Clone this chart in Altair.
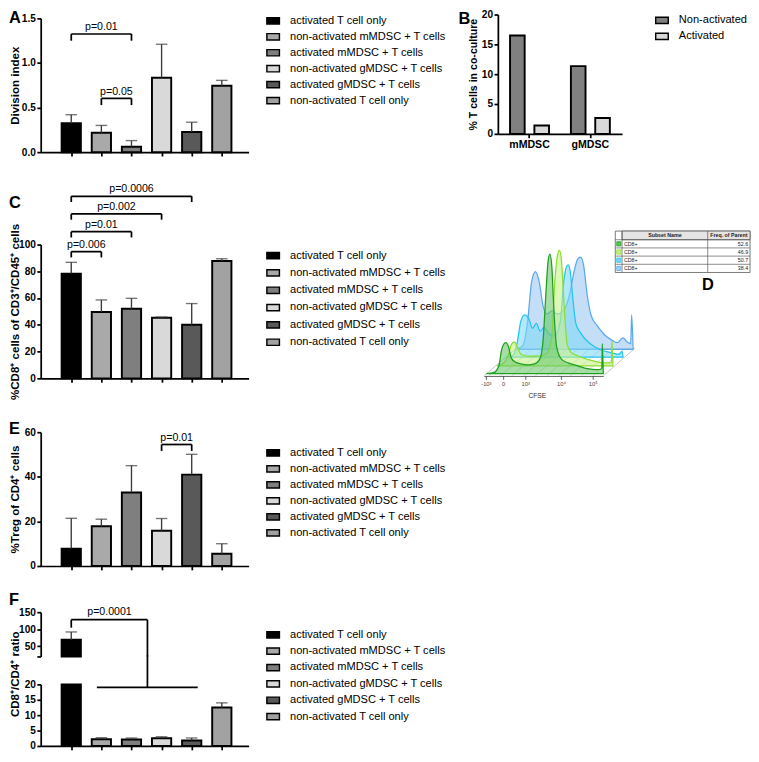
import altair as alt
import pandas as pd

FONT = "Liberation Sans"
RECT = "M-1,-0.5H1V0.5H-1Z"

# ---------------- shared categories ----------------
groups = ["activated T cell only", "non-activated mMDSC + T cells", "activated mMDSC + T cells",
          "non-activated gMDSC + T cells", "activated gMDSC + T cells", "non-activated T cell only"]
group_colors = ["#000000", "#a9a9a9", "#7f7f7f", "#d9d9d9", "#595959", "#a2a2a2"]
bar_pos = [1, 2, 3, 4, 5, 6]

# ---------------- panel A ----------------
a_mean = [0.325, 0.217, 0.061, 0.834, 0.227, 0.744]
a_upper = [0.42, 0.30, 0.13, 1.21, 0.336, 0.805]
a_br_x1 = [1, 2]
a_br_x2 = [3, 3]
a_br_y = [1.325, 0.603]
a_br_label = ["p=0.01", "p=0.05"]

# ---------------- panel B ----------------
b_cells = ["mMDSC", "mMDSC", "gMDSC", "gMDSC"]
b_states = ["Non-activated", "Activated", "Non-activated", "Activated"]
b_values = [16.5, 1.4, 11.35, 2.65]

# ---------------- panel C ----------------
c_mean = [78.3, 49.6, 52.0, 45.3, 40.0, 87.7]
c_upper = [86.7, 58.6, 59.8, 45.8, 55.9, 89.4]
c_br_x1 = [1, 1, 1, 1]
c_br_x2 = [2, 3, 4, 5]
c_br_y = [94.7, 109.6, 122.9, 136.1]
c_br_label = ["p=0.006", "p=0.01", "p=0.002", "p=0.0006"]

# ---------------- panel E ----------------
e_mean = [7.8, 17.8, 33.0, 15.8, 41.0, 5.5]
e_upper = [21.4, 21.0, 45.0, 21.3, 50.1, 10.0]
e_br_x1 = [4]
e_br_x2 = [5]
e_br_y = [54.5]
e_br_label = ["p=0.01"]

# ---------------- panel F ----------------
f_mean = [69.0, 2.2, 2.1, 2.5, 1.8, 12.5]
f_upper = [92.0, 2.7, 2.6, 3.0, 2.6, 14.0]
f_br_top_y = 128.0
f_br_tick_low = 104.7
f_br_x_start = 1.0
f_br_x_drop = 3.53
f_br_label_x = 2.27
f_br_low_y = 19.06
f_br_low_x1 = 1.85
f_br_low_x2 = 5.2
f_break_gap_top = 29.4

# ---------------- panel D (flow histogram, page-pixel space) ----------------
dg_x = [482, 490, 495, 498, 502, 505, 508, 512, 518, 525, 532, 538, 541, 544, 546, 548, 550, 552, 555, 560, 567, 577, 587, 597, 602, 602.5, 603.5]
dg_h = [0, 1, 8, 25, 32, 28, 16, 12, 10, 9, 10, 16, 35, 85, 115, 124, 112, 70, 28, 15, 11, 8, 5, 4, 5, 31, 0]
lg_x = [493, 500, 505, 508, 511, 514, 518, 525, 535, 545, 550, 553, 556, 558, 560, 563, 566, 570, 578, 590, 605, 612, 612.5, 613.5]
lg_h = [0, 3, 12, 22, 25, 20, 12, 10, 10, 13, 30, 85, 115, 120, 110, 60, 22, 14, 10, 6, 3, 3, 26, 0]
cy_x = [503, 510, 514, 518, 522, 526, 530, 534, 538, 542, 547, 553, 559, 562, 565, 567, 569, 572, 575, 580, 590, 600, 610, 620, 623, 624]
cy_h = [0, 2, 15, 38, 44, 40, 30, 35, 27, 31, 24, 22, 38, 75, 93, 96, 90, 60, 35, 25, 14, 8, 5, 3, 6, 0]
bl_x = [513, 520, 525, 529, 533, 537, 541, 545, 550, 556, 562, 568, 573, 577, 580, 583, 587, 591, 597, 605, 612, 618, 624, 628, 632, 633, 634.5]
bl_h = [0, 4, 30, 70, 81, 70, 45, 37, 40, 37, 40, 55, 80, 94, 96, 88, 55, 35, 25, 15, 10, 7, 12, 8, 6, 36, 0]
hist_series = [
    ("blue", bl_x, bl_h, 353, "#9ec8f4", "#5aa8ee"),
    ("cyan", cy_x, cy_h, 361, "#7fd8f5", "#22c4f0"),
    ("lime", lg_x, lg_h, 370, "#c6f08c", "#8be02a"),
    ("green", dg_x, dg_h, 378, "#6cc86c", "#1ea01e"),
]
floor_front_x = [485, 497, 509, 521, 533, 545, 557, 569, 581, 593]
cfse_tick_x = [482, 500, 523, 560, 593]
cfse_tick_label = ["-10³", "0", "10³", "10⁴", "10⁵"]
table_names = ["CD8+", "CD8+", "CD8+", "CD8+"]
table_freq = ["52.6", "46.9", "50.7", "38.4"]
table_fill = ["#5cc05c", "#c6f08c", "#7fd8f5", "#a8cdf4"]
table_edge = ["#1ea01e", "#8be02a", "#22c4f0", "#5aa8ee"]
table_row_y = [239, 247.5, 256, 264.5, 273]

D_TOP = 244
D_BOTTOM = 405
LEG_X = 234


def legend(x, y, row_pad):
    return alt.Legend(title=None, orient="none", legendX=x, legendY=y, symbolType=RECT,
                      symbolSize=170, symbolStrokeColor="black", symbolStrokeWidth=1.5,
                      labelFontSize=11.5, labelFont=FONT, labelColor="black", labelLimit=400,
                      rowPadding=row_pad, labelOffset=10, padding=0, symbolOpacity=1)


def letter_layer(letter, x, y):
    return alt.Chart(pd.DataFrame({"t": [letter]})).mark_text(
        align="left", baseline="top", fontSize=17, fontWeight="bold", font=FONT, color="black"
    ).encode(text="t:N", x=alt.value(x), y=alt.value(y))


XS = alt.Scale(domain=[0.146, 6.73], nice=False, zero=False)
XA = alt.Axis(values=bar_pos, labels=False, title=None, grid=False)


def bar_panel(mean, upper, ymax, yticks, fmt, ytitle, bx1, bx2, by, blab, drop,
              letter, letter_y, legend_y, row_pad):
    df = pd.DataFrame({"pos": bar_pos, "group": groups, "mean": mean, "upper": upper})
    ys = alt.Scale(domain=[0, ymax], nice=False)
    ya = alt.Axis(values=yticks, format=fmt, title=ytitle, grid=False)

    def X(f):
        return alt.X(f, type="quantitative", scale=XS, axis=XA)

    def Y(f):
        return alt.Y(f, type="quantitative", scale=ys, axis=ya)

    bars = alt.Chart(df).mark_bar(width=20, stroke="black", strokeWidth=2).encode(
        x=X("pos"), y=Y("mean"),
        color=alt.Color("group:N", scale=alt.Scale(domain=groups, range=group_colors),
                        legend=legend(LEG_X, legend_y, row_pad)))
    err = alt.Chart(df).mark_rule(color="#3a3a3a", strokeWidth=1.4).encode(
        x=X("pos"), y=Y("mean"), y2="upper:Q")
    cap = alt.Chart(df).mark_tick(orient="horizontal", size=12, thickness=1.4, color="#3a3a3a").encode(
        x=X("pos"), y=Y("upper"))

    bdf = pd.DataFrame({"x1": bx1, "x2": bx2, "y": by, "label": blab})
    bbase = alt.Chart(bdf).transform_calculate(ylow=f"datum.y - {drop}", xm="(datum.x1 + datum.x2) / 2")
    hline = bbase.mark_rule(color="black", strokeWidth=1.8).encode(x=X("x1"), x2="x2:Q", y=Y("y"))
    lt = bbase.mark_rule(color="black", strokeWidth=1.8).encode(x=X("x1"), y=Y("y"), y2="ylow:Q")
    rt = bbase.mark_rule(color="black", strokeWidth=1.8).encode(x=X("x2"), y=Y("y"), y2="ylow:Q")
    txt = bbase.mark_text(baseline="bottom", dy=-2, fontSize=11, font=FONT, color="black").encode(
        x=X("xm"), y=Y("y"), text="label:N")

    return alt.layer(bars, err, cap, hline, lt, rt, txt, letter_layer(letter, -33, letter_y)).properties(
        width=216, height=139)


# ---------------- A ----------------
panel_a = bar_panel(a_mean, a_upper, 1.5, [0, 0.5, 1.0, 1.5], ".1f", "Division index",
                    a_br_x1, a_br_x2, a_br_y, a_br_label, 0.075, "A", -8, -5, 2.6)

# ---------------- B ----------------
b_df = pd.DataFrame({"cell": b_cells, "state": b_states, "value": b_values})
b_bars = alt.Chart(b_df).mark_bar(stroke="black", strokeWidth=2).encode(
    x=alt.X("cell:N", sort=["mMDSC", "gMDSC"], scale=alt.Scale(paddingInner=0.2, paddingOuter=0.12),
            axis=alt.Axis(title=None, labelAngle=0, labelFontSize=11)),
    xOffset=alt.XOffset("state:N", sort=["Non-activated", "Activated"],
                        scale=alt.Scale(paddingInner=0.4, paddingOuter=0.2)),
    y=alt.Y("value:Q", scale=alt.Scale(domain=[0, 20], range=[120, -4], nice=False),
            axis=alt.Axis(values=[0, 5, 10, 15, 20], title="% T cells in co-culture", titleFontSize=11)),
    color=alt.Color("state:N", scale=alt.Scale(domain=["Non-activated", "Activated"], range=["#808080", "#d9d9d9"]),
                    legend=legend(163, -5.5, 2.7)),
)
panel_b = alt.layer(b_bars, letter_layer("B", -41, -7)).properties(width=129, height=120)

# ---------------- C ----------------
panel_c = bar_panel(c_mean, c_upper, 100, [0, 20, 40, 60, 80, 100], "d", "%CD8⁺ cells of CD3⁺/CD45⁺ cells",
                    c_br_x1, c_br_x2, c_br_y, c_br_label, 4.3, "C", -51, 4, 4.0)

# ---------------- D ----------------
d_xs = alt.Scale(domain=[470, 757], nice=False, zero=False)
d_ys = alt.Scale(domain=[D_BOTTOM, D_TOP], nice=False, zero=False)


def dX(f):
    return alt.X(f, type="quantitative", scale=d_xs, axis=None)


def dY(f):
    return alt.Y(f, type="quantitative", scale=d_ys, axis=None)


d_layers = []
floor_df = pd.DataFrame({"x": floor_front_x, "y": 380})
floor_df["x2"] = floor_df["x"] + 33
floor_df["y2"] = 352
d_layers.append(alt.Chart(floor_df).mark_rule(color="#c4c4c4", strokeWidth=0.7).encode(
    x=dX("x"), y=dY("y"), x2="x2:Q", y2="y2:Q"))
edge_df = pd.DataFrame({"x": [480, 604, 513], "y": [380, 380, 352], "x2": [513, 636, 636], "y2": [352, 352, 352]})
d_layers.append(alt.Chart(edge_df).mark_rule(color="#aaaaaa", strokeWidth=0.7).encode(
    x=dX("x"), y=dY("y"), x2="x2:Q", y2="y2:Q"))
for name, xs_, hs_, base, fillc, linec in hist_series:
    hdf = pd.DataFrame({"x": xs_, "h": hs_})
    hdf["base"] = base
    hdf["top"] = base - hdf["h"]
    d_layers.append(alt.Chart(hdf).mark_area(fill=fillc, fillOpacity=0.6, stroke=linec, strokeWidth=1.3,
                                             interpolate="monotone").encode(
        x=dX("x"), y=dY("top"), y2="base:Q"))
axis_df = pd.DataFrame({"x": [480], "x2": [604], "y": [381]})
d_layers.append(alt.Chart(axis_df).mark_rule(color="#333333", strokeWidth=0.8).encode(
    x=dX("x"), x2="x2:Q", y=dY("y")))
tick_df = pd.DataFrame({"x": cfse_tick_x, "label": cfse_tick_label, "y": 381, "y2": 384.5, "ly": 386})
d_layers.append(alt.Chart(tick_df).mark_rule(color="#333333", strokeWidth=0.8).encode(
    x=dX("x"), y=dY("y"), y2="y2:Q"))
d_layers.append(alt.Chart(tick_df).mark_text(fontSize=6, color="#444444", baseline="top", font=FONT).encode(
    x=dX("x"), y=dY("ly"), text="label:N"))
d_layers.append(alt.Chart(pd.DataFrame({"x": [535], "y": [401], "t": ["CFSE"]})).mark_text(
    fontSize=7, color="#333333", font=FONT).encode(x=dX("x"), y=dY("y"), text="t:N"))

# table
tab_rect = pd.DataFrame({"x": [616, 623], "x2": [756, 756], "y": [230, 230], "y2": [273, 239],
                         "fill": ["#ffffff", "#e4e4e4"]})
d_layers.append(alt.Chart(tab_rect).mark_rect(stroke="#555555", strokeWidth=0.8).encode(
    x=dX("x"), x2="x2:Q", y=dY("y"), y2="y2:Q", fill=alt.Fill("fill:N", scale=None)))
vline_df = pd.DataFrame({"x": [623, 712], "y": [230, 230], "y2": [273, 273]})
d_layers.append(alt.Chart(vline_df).mark_rule(color="#555555", strokeWidth=0.7).encode(
    x=dX("x"), y=dY("y"), y2="y2:Q"))
hline_df = pd.DataFrame({"y": table_row_y[:-1], "x": 616, "x2": 756})
d_layers.append(alt.Chart(hline_df).mark_rule(color="#555555", strokeWidth=0.7).encode(
    x=dX("x"), x2="x2:Q", y=dY("y")))
rows_df = pd.DataFrame({"name": table_names, "freq": table_freq, "fill": table_fill, "edge": table_edge,
                        "y": table_row_y[:-1], "y2": table_row_y[1:]})
rows_df["yc"] = (rows_df["y"] + rows_df["y2"]) / 2
rows_df["sq_y"] = rows_df["yc"] - 2.2
rows_df["sq_y2"] = rows_df["yc"] + 2.2
rows_df["sx"] = 617.5
rows_df["sx2"] = 621.8
rows_df["nx"] = 625
rows_df["fx"] = 754
d_layers.append(alt.Chart(rows_df).mark_rect(strokeWidth=0.8).encode(
    x=dX("sx"), x2="sx2:Q", y=dY("sq_y"), y2="sq_y2:Q",
    fill=alt.Fill("fill:N", scale=None), stroke=alt.Stroke("edge:N", scale=None)))
d_layers.append(alt.Chart(rows_df).mark_text(fontSize=5.5, align="left", font=FONT, color="#222222").encode(
    x=dX("nx"), y=dY("yc"), text="name:N"))
d_layers.append(alt.Chart(rows_df).mark_text(fontSize=5.5, align="right", font=FONT, color="#222222").encode(
    x=dX("fx"), y=dY("yc"), text="freq:N"))
head_df = pd.DataFrame({"x": [667.5, 734], "y": [234.5, 234.5], "t": ["Subset Name", "Freq. of Parent"]})
d_layers.append(alt.Chart(head_df).mark_text(fontSize=5.5, fontWeight="bold", font=FONT, color="#222222").encode(
    x=dX("x"), y=dY("y"), text="t:N"))
d_layers.append(alt.Chart(pd.DataFrame({"x": [706], "y": [278], "t": ["D"]})).mark_text(
    fontSize=17, fontWeight="bold", align="left", baseline="top", font=FONT, color="black").encode(
    x=dX("x"), y=dY("y"), text="t:N"))
panel_d = alt.layer(*d_layers).properties(width=287, height=D_BOTTOM - D_TOP)

# ---------------- E ----------------
panel_e = bar_panel(e_mean, e_upper, 60, [0, 20, 40, 60], "d", "%Treg of CD4⁺ cells",
                    e_br_x1, e_br_x2, e_br_y, e_br_label, 2.9, "E", -11, 14, 2.6)

# ---------------- F (broken axis) ----------------
f_df = pd.DataFrame({"pos": bar_pos, "group": groups, "mean": f_mean, "upper": f_upper})
top_ys = alt.Scale(domain=[20, 150], range=[46, 0], nice=False, zero=False)
bot_ys = alt.Scale(domain=[0, 20], range=[139, 75], nice=False)
top_ya = alt.Axis(values=[20, 50, 100, 150], labelExpr="datum.value == 20 ? '' : datum.label",
                  title=None, orient="left", grid=False)
bot_ya = alt.Axis(values=[0, 5, 10, 15, 20], title="CD8⁺/CD4⁺ ratio", titleY=64, orient="left", grid=False)
f_color = alt.Color("group:N", scale=alt.Scale(domain=groups, range=group_colors), legend=legend(LEG_X, 16, 3.0))


def FX(f):
    return alt.X(f, type="quantitative", scale=XS, axis=XA)


def TY(f):
    return alt.Y(f, type="quantitative", scale=top_ys, axis=top_ya)


def BY(f):
    return alt.Y(f, type="quantitative", scale=bot_ys, axis=bot_ya)


f_hi = alt.Chart(f_df).transform_filter("datum.mean > 20")
f_lo = alt.Chart(f_df).transform_calculate(low="min(datum.mean, 20)")
f_lo_err = alt.Chart(f_df).transform_filter("datum.mean <= 20")

top_bar = f_hi.mark_bar(width=20, stroke="black", strokeWidth=2).encode(
    x=FX("pos"), y=TY("mean"), y2=alt.datum(20), color=f_color)
top_err = f_hi.mark_rule(color="#3a3a3a", strokeWidth=1.4).encode(x=FX("pos"), y=TY("mean"), y2="upper:Q")
top_cap = f_hi.mark_tick(orient="horizontal", size=12, thickness=1.4, color="#3a3a3a").encode(
    x=FX("pos"), y=TY("upper"))
fb_top = pd.DataFrame({"x1": [f_br_x_start], "x2": [f_br_x_drop], "y": [f_br_top_y], "ylow": [f_br_tick_low],
                       "ybreak": [20], "lx": [f_br_label_x], "label": ["p=0.0001"]})
fbt = alt.Chart(fb_top)
top_h = fbt.mark_rule(color="black", strokeWidth=1.8).encode(x=FX("x1"), x2="x2:Q", y=TY("y"))
top_t = fbt.mark_rule(color="black", strokeWidth=1.8).encode(x=FX("x1"), y=TY("y"), y2="ylow:Q")
top_v = fbt.mark_rule(color="black", strokeWidth=1.8).encode(x=FX("x2"), y=TY("y"), y2="ybreak:Q")
top_txt = fbt.mark_text(baseline="bottom", dy=-3, fontSize=11, font=FONT, color="black").encode(
    x=FX("lx"), y=TY("y"), text="label:N")
top_group = alt.layer(top_bar, top_err, top_cap, top_h, top_t, top_v, top_txt, letter_layer("F", -33, -21))

bot_bar = f_lo.mark_bar(width=20, stroke="black", strokeWidth=2).encode(
    x=FX("pos"), y=BY("low"), color=f_color)
bot_err = f_lo_err.mark_rule(color="#3a3a3a", strokeWidth=1.4).encode(x=FX("pos"), y=BY("mean"), y2="upper:Q")
bot_cap = f_lo_err.mark_tick(orient="horizontal", size=12, thickness=1.4, color="#3a3a3a").encode(
    x=FX("pos"), y=BY("upper"))
fb_low = pd.DataFrame({"x1": [f_br_low_x1], "x2": [f_br_low_x2], "xd": [f_br_x_drop],
                       "y": [f_br_low_y], "ytop": [f_break_gap_top]})
fbl = alt.Chart(fb_low)
low_h = fbl.mark_rule(color="black", strokeWidth=1.8).encode(x=FX("x1"), x2="x2:Q", y=BY("y"))
low_v = fbl.mark_rule(color="black", strokeWidth=1.8).encode(x=FX("xd"), y=BY("y"), y2="ytop:Q")
bot_group = alt.layer(bot_bar, bot_err, bot_cap, low_h, low_v)

panel_f = alt.layer(top_group, bot_group).resolve_scale(y="independent").properties(width=216, height=139)

# ---------------- assemble ----------------
def indep(c):
    return c.resolve_scale(color="independent").resolve_legend(color="independent")


row1 = indep(alt.hconcat(panel_a, panel_b, spacing=12))
row2 = indep(alt.hconcat(panel_c, panel_d, spacing=29))
top2 = indep(alt.vconcat(row1, row2, spacing=26))
upper3 = indep(alt.vconcat(top2, panel_e, spacing=22))
chart = indep(alt.vconcat(upper3, panel_f, spacing=20)).properties(
    padding={"left": 0, "top": -13, "right": 0, "bottom": 0}
).configure_axis(
    domainColor="black", domainWidth=1.8, tickColor="black", tickWidth=1.8, tickSize=4,
    labelFont=FONT, labelFontSize=10.5, labelFontWeight="bold", labelColor="black", labelPadding=1.5,
    titleFont=FONT, titleFontSize=12, titleFontWeight="bold", titleColor="black", titlePadding=0, grid=False
).configure_axisY(minExtent=20, maxExtent=20).configure_view(stroke=None)

chart.save("out.html", embed_options={"renderer": "svg", "actions": False})
